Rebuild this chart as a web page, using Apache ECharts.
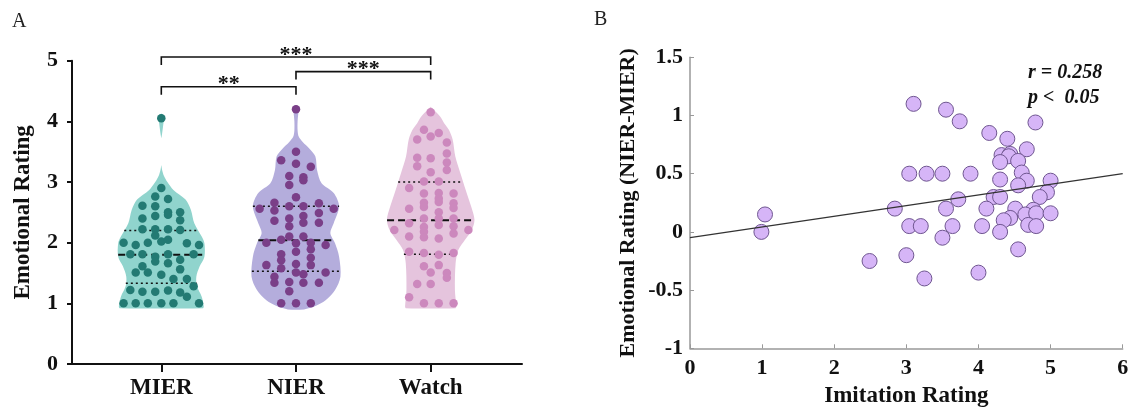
<!DOCTYPE html>
<html><head><meta charset="utf-8">
<script src="https://cdn.jsdelivr.net/npm/echarts@6/dist/echarts.min.js"></script>
<style>html,body{margin:0;padding:0;background:#fff}#c{width:1132px;height:409px}</style>
</head><body><div id="c"></div><script>
// ---------- Panel A data ----------
const violinCategories = ['MIER', 'NIER', 'Watch'];
const mierValues = [4.05, 2.90, 2.76, 2.72, 2.61, 2.60, 2.50, 2.50, 2.40, 2.44, 2.46, 2.37, 2.22, 2.22, 2.22, 2.21, 2.12, 2.02, 2.05, 2.00, 1.96, 2.00, 1.99, 1.96, 1.81, 1.81, 1.77, 1.69, 1.81, 1.72, 1.81, 1.61, 1.66, 1.56, 1.51, 1.51, 1.47, 1.40, 1.40, 1.28, 1.22, 1.19, 1.19, 1.21, 1.18, 1.11, 1.0, 1.0, 1.0, 1.0, 1.0, 1.0];
const mierJitter = [0, 0, -0.045, 0.05, -0.14, -0.045, 0.05, 0.14, -0.14, -0.045, 0.05, 0.14, -0.14, -0.045, 0.05, 0.14, -0.045, 0, 0.05, -0.28, -0.19, -0.10, 0.19, 0.28, -0.23, -0.14, -0.045, -0.045, 0.05, 0.14, 0.24, -0.14, 0.05, 0.14, -0.19, -0.10, 0, 0.09, 0.19, 0.24, -0.23, -0.14, -0.045, 0.05, 0.14, 0.19, -0.28, -0.19, -0.10, 0, 0.09, 0.28];
const nierValues = [4.20, 3.50, 3.36, 3.30, 3.25, 3.10, 3.08, 3.03, 2.95, 2.75, 2.66, 2.65, 2.56, 2.53, 2.60, 2.60, 2.49, 2.56, 2.36, 2.40, 2.44, 2.33, 2.27, 2.33, 2.10, 2.10, 2.00, 2.05, 1.99, 2.00, 1.96, 1.85, 1.89, 1.81, 1.75, 1.71, 1.65, 1.63, 1.63, 1.58, 1.51, 1.48, 1.51, 1.44, 1.34, 1.35, 1.34, 1.34, 1.20, 1.0, 1.0, 1.0];
const nierJitter = [0, 0, -0.11, 0, 0.11, -0.05, 0.055, 0.055, -0.05, 0, -0.16, 0.17, -0.27, -0.16, -0.05, 0.055, 0.17, 0.28, -0.16, -0.05, 0.055, 0.17, -0.05, 0.055, -0.05, 0.055, -0.22, -0.11, 0, 0.11, 0.22, 0, 0.11, -0.11, 0.11, -0.11, 0, 0.11, -0.22, -0.11, 0, 0.055, 0.22, -0.16, -0.16, -0.05, 0.055, 0.17, -0.05, -0.11, 0, 0.11];
const watchValues = [4.15, 3.86, 3.75, 3.81, 3.70, 3.65, 3.47, 3.40, 3.39, 3.32, 3.26, 3.16, 3.20, 3.01, 3.01, 2.90, 2.81, 2.82, 2.81, 2.66, 2.59, 2.73, 2.67, 2.65, 2.56, 2.50, 2.57, 2.40, 2.40, 2.40, 2.32, 2.26, 2.29, 2.27, 2.21, 2.10, 2.18, 2.09, 2.07, 2.15, 2.21, 1.85, 1.83, 1.80, 1.83, 1.61, 1.63, 1.51, 1.50, 1.42, 1.32, 1.32, 1.10, 1.0, 1.0, 1.0];
const watchJitter = [0, -0.05, 0, 0.06, -0.10, 0.12, 0.12, -0.10, 0, 0.12, -0.10, 0, 0.12, -0.05, 0.06, -0.16, -0.05, 0.06, 0.17, -0.05, -0.05, 0.06, 0.06, 0.17, -0.16, 0.06, 0.17, -0.05, 0.06, 0.17, -0.16, -0.05, 0.06, 0.17, -0.27, -0.16, -0.05, -0.05, 0.06, 0.17, 0.28, -0.16, -0.05, 0.06, 0.17, -0.05, 0.06, 0, 0.12, 0.12, -0.10, 0, -0.16, -0.05, 0.06, 0.17];
// violin density outlines: [rating, half width]
const mierOutline = [[4.13, 0], [4.1, 0.018], [4.05, 0.022], [4.0, 0.018], [3.9, 0.012], [3.8, 0.006], [3.72, 0], [3.28, 0], [3.2, 0.006], [3.1, 0.02], [3.0, 0.045], [2.87, 0.09], [2.71, 0.18], [2.54, 0.22], [2.32, 0.245], [2.1, 0.30], [1.99, 0.32], [1.77, 0.32], [1.61, 0.285], [1.44, 0.26], [1.28, 0.265], [1.11, 0.30], [0.95, 0.315], [0.92, 0.31]];
const nierOutline = [[4.27, 0], [4.22, 0.02], [4.15, 0.018], [4.0, 0.012], [3.85, 0.012], [3.75, 0.02], [3.66, 0.05], [3.55, 0.1], [3.42, 0.144], [3.2, 0.156], [2.98, 0.19], [2.82, 0.28], [2.6, 0.32], [2.32, 0.28], [2.16, 0.255], [1.99, 0.29], [1.77, 0.32], [1.44, 0.33], [1.22, 0.29], [1.05, 0.22], [0.95, 0.14], [0.9, 0.06]];
const watchOutline = [[4.24, 0], [4.08, 0.07], [3.97, 0.1], [3.86, 0.135], [3.70, 0.163], [3.42, 0.183], [3.15, 0.22], [2.87, 0.26], [2.6, 0.3], [2.38, 0.325], [2.21, 0.305], [2.05, 0.255], [1.88, 0.205], [1.66, 0.185], [1.22, 0.18], [0.95, 0.19], [0.92, 0.185]];
const mierQuartiles = [1.33, 1.80, 2.20];
const nierQuartiles = [1.53, 2.04, 2.60];
const watchQuartiles = [1.81, 2.37, 3.00];
const sigPairs = [[1, 3], [1, 2], [2, 3]];
const sigLabels = ['***', '**', '***'];

// ---------- Panel B data ----------
const imitationRating = [3.10, 3.55, 3.74, 4.79, 4.15, 4.40, 4.67, 4.32, 4.44, 4.42, 4.30, 4.55, 4.60, 3.04, 3.28, 3.50, 3.89, 4.30, 4.67, 5.00, 4.55, 4.95, 4.85, 4.21, 4.30, 3.72, 2.84, 3.55, 4.11, 4.51, 4.76, 4.44, 4.65, 4.80, 5.00, 1.04, 4.35, 4.69, 4.80, 3.04, 3.20, 3.64, 4.05, 4.30, 0.99, 3.50, 4.55, 3.00, 2.49, 4.00, 3.25];
const emotionalDiff = [1.10, 1.05, 0.95, 0.94, 0.85, 0.80, 0.71, 0.66, 0.67, 0.65, 0.60, 0.61, 0.51, 0.50, 0.50, 0.50, 0.50, 0.45, 0.44, 0.44, 0.40, 0.34, 0.30, 0.30, 0.30, 0.28, 0.20, 0.20, 0.20, 0.20, 0.19, 0.12, 0.15, 0.16, 0.16, 0.15, 0.10, 0.06, 0.05, 0.05, 0.05, 0.05, 0.05, 0.0, 0.0, -0.05, -0.15, -0.20, -0.25, -0.35, -0.40];
const fitX = [0, 6];
const fitY = [-0.05, 0.5];

// ---------- rendering ----------
const serif = '"Liberation Serif","Times New Roman",serif';
function interp(outline, y) {
  for (let i = 0; i < outline.length - 1; i++) {
    const a = outline[i], b = outline[i + 1];
    if (y <= a[0] && y >= b[0]) {
      const t = (a[0] - y) / (a[0] - b[0]);
      return a[1] + t * (b[1] - a[1]);
    }
  }
  return 0;
}
// split an outline into separate lobes wherever its width closes to zero
function lobes(outline) {
  const out = [];
  let cur = [];
  outline.forEach(p => {
    cur.push(p);
    if (p[1] === 0 && cur.length > 1) { out.push(cur); cur = []; }
  });
  if (cur.length > 1) out.push(cur);
  return out;
}
function violinRenderer(outline, quart, fill) {
  return function (params, api) {
    const cx = api.value(0);
    const children = [];
    lobes(outline).forEach(seg => {
      const right = seg.map(p => api.coord([cx + p[1], p[0]]));
      const left = seg.slice().reverse().map(p => api.coord([cx - p[1], p[0]]));
      children.push({
        type: 'polygon', shape: { points: right.concat(left), smooth: 0.3 },
        style: { fill: fill, stroke: null }
      });
    });
    quart.forEach((q, i) => {
      const hw = interp(outline, q);
      const a = api.coord([cx - hw, q]), b = api.coord([cx + hw, q]);
      children.push({
        type: 'line', shape: { x1: a[0], y1: a[1], x2: b[0], y2: b[1] },
        style: { stroke: '#111', lineWidth: i === 1 ? 2 : 1.6, lineDash: i === 1 ? [7, 4] : [2, 3] }
      });
    });
    return { type: 'group', children: children };
  };
}
const bracketTop = [5.06, 4.57, 4.82];
const bracketDrop = 0.13;
function bracketRenderer(params, api) {
  const i = params.dataIndex;
  const x1 = api.value(0), x2 = api.value(1);
  const yt = bracketTop[i], yb = yt - bracketDrop;
  const p1 = api.coord([x1, yb]), p2 = api.coord([x1, yt]), p3 = api.coord([x2, yt]), p4 = api.coord([x2, yb]);
  return {
    type: 'group', children: [
      { type: 'polyline', shape: { points: [p1, p2, p3, p4] }, style: { stroke: '#111', lineWidth: 1.6, fill: null } },
      { type: 'text', x: (p2[0] + p3[0]) / 2, y: p2[1] - 2, style: { text: sigLabels[i], font: 'bold 22px ' + serif, fill: '#111', align: 'center', verticalAlign: 'middle' } }
    ]
  };
}
function dots(values, jitter, cat) { return values.map((v, i) => [cat + jitter[i], v]); }

const labelA = { fontFamily: serif, fontWeight: 'bold', fontSize: 22, color: '#111' };
const option = {
  animation: false,
  backgroundColor: '#fff',
  grid: [
    { left: 72, top: 60.7, width: 450, height: 303.3, outerBoundsMode: 'none' },
    { left: 690, top: 57.3, width: 432.7, height: 291, outerBoundsMode: 'none' }
  ],
  xAxis: [
    {
      gridIndex: 0, type: 'value', min: 0.337, max: 3.678,
      splitLine: { show: false },
      axisLine: { show: true, onZero: false, lineStyle: { color: '#111', width: 2 } },
      axisTick: { show: true, customValues: [1, 2, 3], length: 8, lineStyle: { color: '#111', width: 2 } },
      axisLabel: { customValues: [1, 2, 3], formatter: v => violinCategories[Math.round(v) - 1], margin: 13, fontFamily: serif, fontWeight: 'bold', fontSize: 23, color: '#111' }
    },
    {
      gridIndex: 1, type: 'value', min: 0, max: 6, interval: 1,
      name: 'Imitation Rating', nameLocation: 'middle', nameGap: 29,
      nameTextStyle: { fontFamily: serif, fontWeight: 'bold', fontSize: 23, color: '#111' },
      splitLine: { show: false },
      axisLine: { show: true, onZero: false, lineStyle: { color: '#999', width: 1.5 } },
      axisTick: { show: true, inside: true, length: 4, lineStyle: { color: '#999', width: 1 } },
      axisLabel: { margin: 9, ...labelA }
    }
  ],
  yAxis: [
    {
      gridIndex: 0, type: 'value', min: 0, max: 5, interval: 1,
      name: 'Emotional Rating', nameLocation: 'middle', nameGap: 37,
      nameTextStyle: { fontFamily: serif, fontWeight: 'bold', fontSize: 23, color: '#111' },
      splitLine: { show: false },
      axisLine: { show: true, onZero: false, lineStyle: { color: '#111', width: 2 } },
      axisTick: { show: true, length: 5, lineStyle: { color: '#111', width: 2 } },
      axisLabel: { margin: 14, ...labelA }
    },
    {
      gridIndex: 1, type: 'value', min: -1, max: 1.5, interval: 0.5,
      name: 'Emotional Rating (NIER-MIER)', nameLocation: 'middle', nameGap: 51,
      nameTextStyle: { fontFamily: serif, fontWeight: 'bold', fontSize: 22, color: '#111' },
      splitLine: { show: false },
      axisLine: { show: true, onZero: false, lineStyle: { color: '#999', width: 1.5 } },
      axisTick: { show: true, inside: true, length: 4, lineStyle: { color: '#999', width: 1 } },
      axisLabel: { margin: 7, ...labelA }
    }
  ],
  series: [
    { type: 'custom', xAxisIndex: 0, yAxisIndex: 0, data: [[1, 0]], renderItem: violinRenderer(mierOutline, mierQuartiles, '#90d4cd'), z: 1, silent: true },
    { type: 'custom', xAxisIndex: 0, yAxisIndex: 0, data: [[2, 0]], renderItem: violinRenderer(nierOutline, nierQuartiles, '#b4addc'), z: 1, silent: true },
    { type: 'custom', xAxisIndex: 0, yAxisIndex: 0, data: [[3, 0]], renderItem: violinRenderer(watchOutline, watchQuartiles, '#e5c4dd'), z: 1, silent: true },
    { type: 'scatter', xAxisIndex: 0, yAxisIndex: 0, data: dots(mierValues, mierJitter, 1), symbolSize: 8.5, itemStyle: { color: '#237a73', opacity: 1 }, z: 3 },
    { type: 'scatter', xAxisIndex: 0, yAxisIndex: 0, data: dots(nierValues, nierJitter, 2), symbolSize: 8.5, itemStyle: { color: '#7a3f88', opacity: 1 }, z: 3 },
    { type: 'scatter', xAxisIndex: 0, yAxisIndex: 0, data: dots(watchValues, watchJitter, 3), symbolSize: 8.5, itemStyle: { color: '#cc88bd', opacity: 1 }, z: 3 },
    { type: 'custom', xAxisIndex: 0, yAxisIndex: 0, data: sigPairs, renderItem: bracketRenderer, z: 4, silent: true },
    {
      type: 'scatter', xAxisIndex: 1, yAxisIndex: 1,
      data: imitationRating.map((x, i) => [x, emotionalDiff[i]]),
      symbolSize: 15, itemStyle: { color: '#d6b5f7', borderColor: '#6f5690', borderWidth: 1, opacity: 1 }, z: 2
    },
    {
      type: 'line', xAxisIndex: 1, yAxisIndex: 1,
      data: fitX.map((x, i) => [x, fitY[i]]), showSymbol: false, symbol: 'none',
      lineStyle: { color: '#333', width: 1.3 }, z: 3, silent: true
    }
  ],
  graphic: [
    { type: 'text', left: 12, top: 12, style: { text: 'A', font: '20px ' + serif, fill: '#222' } },
    { type: 'text', left: 594, top: 10, style: { text: 'B', font: '20px ' + serif, fill: '#222' } },
    { type: 'text', left: 1028, top: 63, style: { text: 'r = 0.258', font: 'italic bold 20px ' + serif, fill: '#111' } },
    { type: 'text', left: 1028, top: 88, style: { text: 'p <  0.05', font: 'italic bold 20px ' + serif, fill: '#111' } }
  ]
};
const chart = echarts.init(document.getElementById('c'), null, { renderer: 'canvas' });
chart.setOption(option);
</script></body></html>
